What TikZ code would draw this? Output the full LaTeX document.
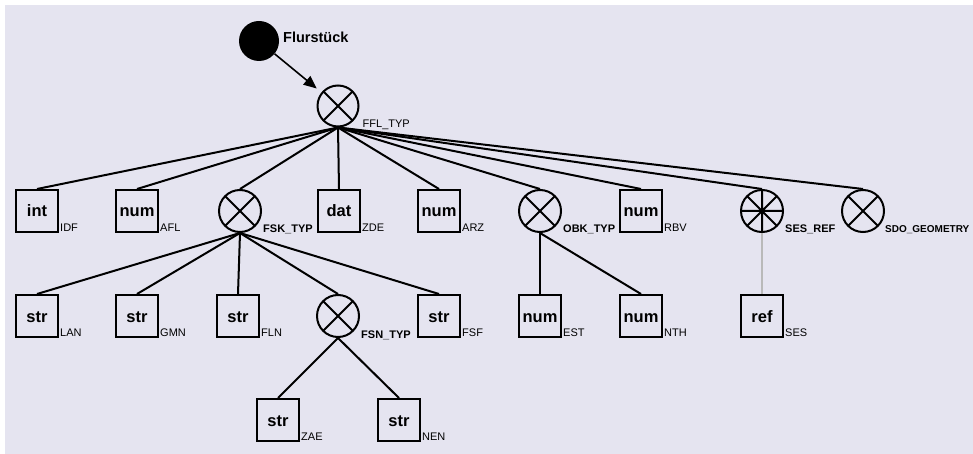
\documentclass[tikz,border=0pt]{standalone}
\usepackage{fontspec}
\setmainfont{Liberation Sans}
\usetikzlibrary{arrows.meta}
\definecolor{bgcol}{RGB}{229,228,240}

\begin{document}
\begin{tikzpicture}[x=1pt,y=-1pt,
  typ box/.style={rectangle,draw,line width=2pt,minimum size=42pt,inner sep=0pt,
    font=\fontsize{16.5}{16.5}\selectfont\bfseries,text height=12pt,text depth=0pt},
  typ node/.style={circle,draw,line width=2pt,minimum size=42pt,inner sep=0pt,
    path picture={\draw[line width=2pt]
      (path picture bounding box.north west) -- (path picture bounding box.south east)
      (path picture bounding box.north east) -- (path picture bounding box.south west);}},
  ref node/.style={circle,draw,line width=2pt,minimum size=42pt,inner sep=0pt,
    path picture={\draw[line width=2pt]
      (path picture bounding box.north west) -- (path picture bounding box.south east)
      (path picture bounding box.north east) -- (path picture bounding box.south west)
      (path picture bounding box.north) -- (path picture bounding box.south)
      (path picture bounding box.west) -- (path picture bounding box.east);}},
  attr/.style={font=\fontsize{11}{11}\selectfont,anchor=base west,inner sep=0pt},
  typ name/.style={attr,font=\fontsize{11}{11}\selectfont\bfseries},
  link/.style={line width=2pt}]
  % page and background
  \useasboundingbox (0,0) rectangle (973,454);
  \fill[white] (0,0) rectangle (973,454);
  \fill[bgcol] (5,5) rectangle (973,454);

  % root
  \node[circle,fill=black,minimum size=40pt,inner sep=0pt] (flur) at (259,41) {};
  \node[anchor=base west,inner sep=0pt,font=\fontsize{14.5}{14.5}\selectfont\bfseries] (flur-l) at (283,43) {Flurstück};
  \node[typ node,minimum size=41pt] (ffl) at (338,106) {};
  \node[attr] (ffl-l) at ([xshift=3pt]ffl.east |- ffl.south) {FFL\_TYP};

  % first level
  \node[typ box] (idf) at (37,211) {int};
  \node[typ box] (afl) at (137,211) {num};
  \node[typ node] (fsk) at (240,211) {};
  \node[typ box] (zde) at (339,211) {dat};
  \node[typ box] (arz) at (439,211) {num};
  \node[typ node] (obk) at (540,211) {};
  \node[typ box] (rbv) at (641,211) {num};
  \node[ref node] (sesref) at (762,211) {};
  \node[typ node] (sdo) at (863,211) {};

  % second level
  \node[typ box] (lan) at (37,316) {str};
  \node[typ box] (gmn) at (137,316) {str};
  \node[typ box] (fln) at (238,316) {str};
  \node[typ node] (fsn) at (338,316) {};
  \node[typ box] (fsf) at (439,316) {str};
  \node[typ box] (est) at (540,316) {num};
  \node[typ box] (nth) at (641,316) {num};
  \node[typ box] (ses) at (762,316) {ref};

  % third level
  \node[typ box] (zae) at (278,420) {str};
  \node[typ box] (nen) at (399,420) {str};

  % attribute names
  \foreach \n/\t in {idf/IDF,afl/AFL,zde/ZDE,arz/ARZ,rbv/RBV,lan/LAN,gmn/GMN,fln/FLN,
                     fsf/FSF,est/EST,nth/NTH,ses/SES,zae/ZAE,nen/NEN}
    \node[attr] (\n-l) at ([shift={(1,-2)}]\n.south east) {\t};
  \foreach \n/\t in {fsk/FSK\_TYP,obk/OBK\_TYP,sesref/SES\_REF,fsn/FSN\_TYP}
    \node[typ name] (\n-l) at ([xshift=1pt]\n.east |- \n.south) {\t};
  \node[typ name,font=\fontsize{10}{10}\selectfont\bfseries] (sdo-l) at (sdo.east |- sdo.south) {SDO\_GEOMETRY};

  % connections
  \draw[line width=1.6pt,-{Triangle[length=13pt,width=11pt]},shorten >=6pt] (flur) -- (ffl);
  \foreach \c in {idf,afl,fsk,zde,arz,obk,rbv,sesref,sdo}
    \draw[link] (ffl.south) -- (\c.north);
  \foreach \c in {lan,gmn,fln,fsn,fsf}
    \draw[link] (fsk.south) -- (\c.north);
  \foreach \c in {est,nth}
    \draw[link] (obk.south) -- (\c.north);
  \foreach \c in {zae,nen}
    \draw[link] (fsn.south) -- (\c.north);
  \draw[gray!55,line width=1.2pt] (sesref.south) -- (ses.north);
\end{tikzpicture}
\end{document}
